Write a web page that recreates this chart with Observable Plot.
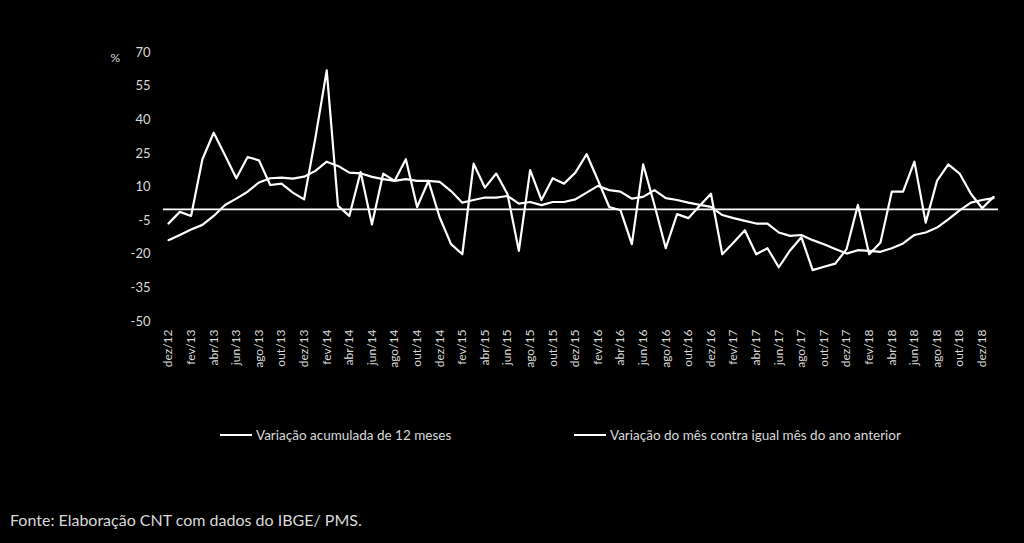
<!DOCTYPE html>
<html><head><meta charset="utf-8">
<script src="https://cdn.jsdelivr.net/npm/d3@7"></script>
<script src="https://cdn.jsdelivr.net/npm/@observablehq/plot@0.6"></script>
<style>
html,body{margin:0;padding:0;background:#000;}
body{width:1024px;height:543px;position:relative;overflow:hidden;font-family:Lato,"Open Sans",sans-serif;color:#d9d9d9;}
#chart{position:absolute;left:0;top:0;}
.leg{position:absolute;top:427px;font-size:13.5px;line-height:16px;white-space:nowrap;display:flex;align-items:center;}
.sw{display:inline-block;width:32px;height:2px;background:#fff;margin-right:4px;}
#src{position:absolute;left:10px;top:510px;font-size:16px;white-space:nowrap;}
</style></head>
<body>
<div id="chart"></div>
<div class="leg" style="left:220px"><span class="sw"></span><span id="l1"></span></div>
<div class="leg" style="left:574px"><span class="sw"></span><span id="l2"></span></div>
<div id="src"></div>
<script>
const months = ["dez/12",
"jan/13","fev/13","mar/13","abr/13","mai/13","jun/13","jul/13","ago/13","set/13","out/13","nov/13","dez/13",
"jan/14","fev/14","mar/14","abr/14","mai/14","jun/14","jul/14","ago/14","set/14","out/14","nov/14","dez/14",
"jan/15","fev/15","mar/15","abr/15","mai/15","jun/15","jul/15","ago/15","set/15","out/15","nov/15","dez/15",
"jan/16","fev/16","mar/16","abr/16","mai/16","jun/16","jul/16","ago/16","set/16","out/16","nov/16","dez/16",
"jan/17","fev/17","mar/17","abr/17","mai/17","jun/17","jul/17","ago/17","set/17","out/17","nov/17","dez/17",
"jan/18","fev/18","mar/18","abr/18","mai/18","jun/18","jul/18","ago/18","set/18","out/18","nov/18","dez/18",
"jan/19"];
const tickLabels = ["dez/12","fev/13","abr/13","jun/13","ago/13","out/13","dez/13","fev/14","abr/14","jun/14","ago/14","out/14","dez/14",
"fev/15","abr/15","jun/15","ago/15","out/15","dez/15","fev/16","abr/16","jun/16","ago/16","out/16","dez/16",
"fev/17","abr/17","jun/17","ago/17","out/17","dez/17","fev/18","abr/18","jun/18","ago/18","out/18","dez/18"];
const yTicks = [70,55,40,25,10,-5,-20,-35,-50];
const accum12 = [-13.7,
-11.4,-9.0,-6.9,-2.9,2.0,4.8,7.9,12.0,13.9,14.2,13.7,14.6,
17.2,21.3,19.4,16.4,16.1,14.5,13.5,12.7,13.5,12.7,12.7,12.3,
8.2,3.0,4.2,5.3,5.3,6.0,2.6,3.3,1.9,3.3,3.3,4.5,
7.5,10.5,8.6,7.9,4.8,5.6,8.6,5.0,4.2,3.0,2.0,1.1,
-2.5,-3.9,-5.1,-6.3,-6.3,-10.3,-11.8,-11.4,-13.7,-15.5,-17.7,-19.7,
-18.2,-18.5,-18.9,-17.3,-15.2,-11.4,-10.3,-8.1,-4.4,-0.4,3.0,4.2,
5.0];
const monthly = [-6.3,
-1.1,-2.9,22.4,34.2,24.2,13.9,23.4,21.9,10.9,11.5,7.5,4.5,
32.0,62.0,1.6,-2.9,16.7,-6.7,16.0,12.7,22.4,1.1,12.7,-3.6,
-15.5,-20.0,20.4,9.7,16.0,6.8,-18.5,17.5,4.2,13.9,11.5,16.4,
24.6,13.0,1.1,-0.4,-15.5,20.1,2.0,-17.3,-2.1,-3.9,1.6,7.0,
-20.0,-14.8,-9.3,-20.0,-17.3,-25.8,-18.3,-12.4,-27.1,-25.6,-24.2,-17.7,
2.0,-20.0,-14.8,7.9,7.9,21.3,-5.9,12.7,20.1,16.0,7.0,0.5,
5.6];
const seriesNames = ["Variação acumulada de 12 meses","Variação do mês contra igual mês do ano anterior"];
const unitLabel = "%";
const sourceText = "Fonte: Elaboração CNT com dados do IBGE/ PMS.";

const chart = Plot.plot({
  width: 1024, height: 390,
  marginLeft: 168, marginRight: 31, marginTop: 52, marginBottom: 69,
  style: {background: "#000", color: "#d9d9d9", fontFamily: "Lato, 'Open Sans', sans-serif", fontSize: "13px"},
  x: {type: "point", domain: months, padding: 0, round: false, label: null},
  y: {domain: [-50, 70], label: null},
  marks: [
    Plot.axisY({ticks: yTicks, tickSize: 0, tickPadding: 18, tickFormat: d => String(d), fontSize: 13}),
    Plot.axisX({ticks: tickLabels, tickSize: 0, tickPadding: 8, tickRotate: -90, fontSize: 12}),
    Plot.text([unitLabel], {frameAnchor: "top-left", text: d => d, dx: -58, dy: 1, fill: "#d9d9d9", fontSize: 12}),
    Plot.ruleY([0], {stroke: "#fff", strokeWidth: 1.6, insetLeft: -5, insetRight: -5}),
    Plot.lineY(accum12, {x: months, stroke: "#fff", strokeWidth: 2.2}),
    Plot.lineY(monthly, {x: months, stroke: "#fff", strokeWidth: 2.2})
  ]
});
document.getElementById("chart").appendChild(chart);
document.getElementById("l1").textContent = seriesNames[0];
document.getElementById("l2").textContent = seriesNames[1];
document.getElementById("src").textContent = sourceText;
</script>
</body></html>
